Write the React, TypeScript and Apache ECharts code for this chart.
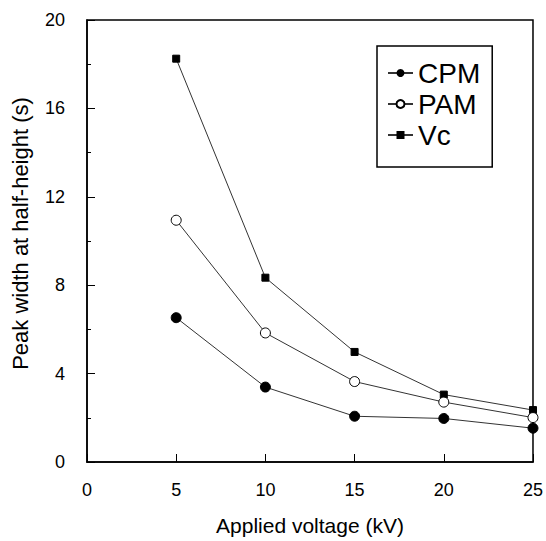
import React, { useEffect, useRef } from "react";
import * as echarts from "echarts";

const voltages = [5, 10, 15, 20, 25];
const cpmValues = [6.53, 3.39, 2.07, 1.97, 1.53];
const pamValues = [10.94, 5.84, 3.64, 2.71, 2.01];
const vcValues = [18.25, 8.34, 4.98, 3.05, 2.35];
const xTicks = [0, 5, 10, 15, 20, 25];
const yTicks = [0, 4, 8, 12, 16, 20];

const FONT = "'Liberation Sans', Arial, Helvetica, sans-serif";

export default function App() {
  const ref = useRef<HTMLDivElement>(null);
  useEffect(() => {
    if (!ref.current) return;
    const chart = echarts.init(ref.current, null, { renderer: "svg" });
    const pairs = (vals: number[]) => voltages.map((v, i) => [v, vals[i]]);
    const lineStyle = { color: "#333", width: 1 };
    chart.setOption({
      animation: false,
      backgroundColor: "#fff",
      textStyle: { fontFamily: FONT },
      grid: {
        left: 87,
        right: 13,
        top: 20,
        bottom: 77,
        show: true,
        borderColor: "#000",
        borderWidth: 1.5,
        backgroundColor: "transparent",
      },
      legend: {
        left: 377,
        top: 46,
        orient: "vertical",
        borderColor: "#000",
        borderWidth: 1.5,
        padding: [13, 12, 18, 10],
        itemWidth: 25,
        itemHeight: 10,
        itemGap: 3,
        textStyle: { fontFamily: FONT, fontSize: 28, color: "#000", lineHeight: 28 },
        data: ["CPM", "PAM", "Vc"],
      },
      xAxis: {
        type: "value",
        min: xTicks[0],
        max: xTicks[xTicks.length - 1],
        interval: 5,
        name: "Applied voltage (kV)",
        nameLocation: "middle",
        nameGap: 53,
        nameTextStyle: { fontFamily: FONT, fontSize: 21, color: "#000" },
        axisLine: { show: true, onZero: false, lineStyle: { color: "#000", width: 1.5 } },
        axisTick: { show: true, inside: true, length: 8, lineStyle: { color: "#000" } },
        axisLabel: { margin: 19, fontFamily: FONT, fontSize: 18, color: "#000" },
        splitLine: { show: false },
      },
      yAxis: {
        type: "value",
        min: yTicks[0],
        max: yTicks[yTicks.length - 1],
        interval: 4,
        name: "Peak width at half-height (s)",
        nameLocation: "middle",
        nameGap: 56,
        nameTextStyle: { fontFamily: FONT, fontSize: 22, color: "#000", padding: [0, 0, 0, 15] },
        axisLine: { show: true, lineStyle: { color: "#000", width: 1.5 } },
        axisTick: { show: true, inside: true, length: 8, lineStyle: { color: "#000" } },
        minorTick: { show: true, splitNumber: 2, length: 4, lineStyle: { color: "#000" } },
        axisLabel: { margin: 22, fontFamily: FONT, fontSize: 18, color: "#000" },
        splitLine: { show: false },
        minorSplitLine: { show: false },
      },
      series: [
        {
          name: "CPM",
          type: "line",
          data: pairs(cpmValues),
          symbol: "circle",
          symbolSize: 10,
          itemStyle: { color: "#000", borderColor: "#000" },
          lineStyle,
          z: 3,
        },
        {
          name: "PAM",
          type: "line",
          data: pairs(pamValues),
          symbol: "circle",
          symbolSize: 10,
          itemStyle: { color: "#fff", borderColor: "#000", borderWidth: 1 },
          lineStyle,
          z: 4,
        },
        {
          name: "Vc",
          type: "line",
          data: pairs(vcValues),
          symbol: "rect",
          symbolSize: 7,
          itemStyle: { color: "#000", borderColor: "#000" },
          lineStyle,
          z: 2,
        },
      ],
    });
    return () => chart.dispose();
  }, []);
  return <div ref={ref} style={{ width: 546, height: 541, position: "absolute", left: 0, top: 0 }} />;
}
